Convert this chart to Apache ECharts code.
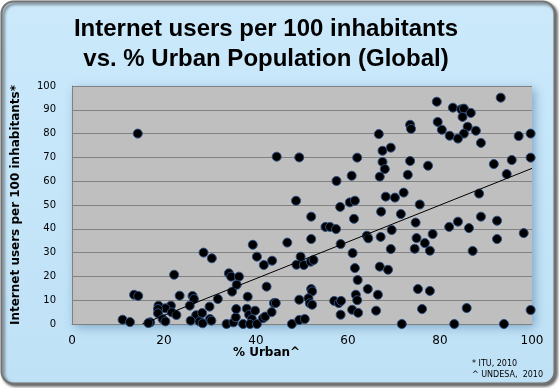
<!DOCTYPE html>
<html>
<head>
<meta charset="utf-8">
<script src="https://cdn.jsdelivr.net/npm/echarts@6/dist/echarts.min.js"></script>
<style>
html,body{margin:0;padding:0;background:#ffffff;}
#chart{width:559px;height:388px;}
</style>
</head>
<body>
<div id="chart"></div>
<script>
// % Urban population (x)
const urban = [14.3,44.5,49.4,48.7,79.3,93.2,82.8,84.6,85.2,86.7,84.9,79.5,73.5,73.7,80.4,86.0,87.8,66.7,82.1,85.2,83.9,88.9,97.1,99.7,69.3,67.5,62.0,67.5,73.5,68.0,77.4,91.7,95.6,99.7,60.8,66.9,73.0,94.5,57.5,68.2,70.2,72.1,88.5,60.4,61.5,58.3,75.6,
46.8,39.3,28.6,30.4,40.2,41.7,43.5,49.7,48.8,22.2,34.1,34.6,36.3,35.8,42.3,34.8,38.2,13.5,14.4,23.4,26.2,26.5,31.7,25.6,29.9,18.8,21.5,20.3,18.7,18.7,21.7,22.7,19.7,20.3,17.0,16.6,11.0,12.6,27.0,28.3,25.8,27.7,28.4,30.0,30.3,33.6,35.1,35.6,35.7,38.0,38.5,39.1,39.8,37.2,38.7,40.2,41.5,42.0,43.4,43.9,44.3,47.8,49.4,49.4,
52.0,61.3,67.2,71.5,74.7,55.1,56.1,57.4,82.0,83.9,86.3,88.9,92.4,92.4,98.2,52.0,58.4,64.1,64.4,67.1,69.5,74.9,78.4,76.7,74.5,77.8,69.3,87.1,61.0,50.4,51.9,52.5,61.5,66.9,68.7,62.1,52.0,52.2,64.3,75.2,77.8,61.7,66.5,62.0,51.4,51.7,52.2,57.0,58.0,58.5,60.9,62.2,66.1,58.4,76.1,85.8,99.7,50.6,71.7,83.1,93.9];
// Internet users per 100 inhabitants (y)
const internet = [80.0,70.3,70.0,51.8,93.4,95.1,90.9,90.2,90.5,88.7,87.0,84.9,83.7,82.0,81.6,82.9,81.2,79.8,79.1,80.0,77.9,76.1,79.0,80.0,74.1,72.8,69.9,68.1,68.5,65.1,66.5,67.2,68.9,69.9,62.3,61.9,62.7,63.0,60.1,53.5,53.1,55.2,54.8,51.1,51.8,49.2,50.2,
34.2,33.3,30.0,27.6,28.3,24.8,26.6,28.3,24.9,20.7,21.3,19.9,19.9,16.5,15.7,13.6,11.5,12.3,11.8,11.9,11.8,10.5,10.5,7.7,7.3,7.7,7.7,6.6,6.3,4.5,4.9,3.8,2.1,1.1,0.7,0.4,1.8,0.8,3.7,4.6,1.4,1.1,0.3,2.1,1.4,0.0,0.7,2.8,6.3,6.4,3.9,2.1,5.6,0.0,0.0,0.0,2.4,3.1,5.0,8.8,8.8,0.0,10.2,1.7,
45.1,44.2,47.2,46.2,42.6,40.8,40.8,39.9,40.8,43.0,40.3,45.1,43.4,35.7,38.2,35.7,33.6,37.1,36.0,36.6,39.5,36.1,37.8,34.0,31.6,30.8,31.5,30.7,29.8,24.8,26.2,26.9,23.5,24.1,22.8,18.5,14.7,13.7,14.7,14.7,13.9,12.3,12.3,10.0,10.8,8.7,8.1,9.7,8.8,9.7,6.0,4.7,5.6,3.9,6.3,6.7,5.9,2.1,0.0,0.0,0.0];
// Linear trend line end points
const trendX = [15.3, 100];
const trendY = [0, 65.4];
// Axis ticks
const xTicks = [0, 20, 40, 60, 80, 100];
const yTicks = [0, 10, 20, 30, 40, 50, 60, 70, 80, 90, 100];

const titleLines = ['Internet users per 100 inhabitants', 'vs. % Urban Population (Global)'];
const yName = 'Internet users per 100 inhabitants*';
const xName = '% Urban^';
const notes = ['* ITU, 2010', '^ UNDESA,  2010'];

const points = urban.map((u, i) => [u, internet[i]]);
const trend = trendX.map((x, i) => [x, trendY[i]]);

const chart = echarts.init(document.getElementById('chart'), null, {renderer: 'canvas'});
chart.setOption({
  animation: false,
  backgroundColor: '#ffffff',
  graphic: [
    {
      type: 'rect', z: -10, silent: true,
      shape: {x: 1.5, y: 1.5, width: 553, height: 382, r: 12},
      style: {
        fill: new echarts.graphic.LinearGradient(0, 0, 0, 1, [
          {offset: 0, color: '#cbe9fb'}, {offset: 1, color: '#bfe1f6'}
        ]),
        stroke: '#737373', lineWidth: 2,
        shadowBlur: 3, shadowOffsetX: 2, shadowOffsetY: 2, shadowColor: 'rgba(60,60,60,0.8)'
      }
    },
    {
      type: 'text', left: 472, top: 358, silent: true,
      style: {text: notes.join('\n'), font: '8px "DejaVu Sans"', fill: '#000', lineHeight: 11}
    },
    {
      type: 'text', left: 233, top: 347, silent: true,
      style: {text: xName, font: 'bold 12px "DejaVu Sans"', fill: '#000'}
    }
  ],
  title: {
    text: titleLines.join('\n'),
    left: 261, top: 9, textAlign: 'center',
    textStyle: {fontFamily: '"Liberation Sans", Arial', fontWeight: 'bold', fontSize: 24, lineHeight: 30, color: '#000'}
  },
  grid: {
    left: 72, right: 27, top: 86, bottom: 64,
    show: true, backgroundColor: '#bfbfbf', borderWidth: 0,
    shadowBlur: 10, shadowColor: 'rgba(0,50,100,0.35)', shadowOffsetX: 3, shadowOffsetY: 3
  },
  xAxis: {
    type: 'value', min: 0, max: 100, interval: 20,
    axisLine: {show: true, lineStyle: {color: '#808080', width: 1}},
    axisTick: {show: false},
    splitLine: {show: false},
    axisLabel: {fontFamily: '"DejaVu Sans"', fontSize: 12, color: '#000', margin: 11}
  },
  yAxis: {
    type: 'value', min: 0, max: 100, interval: 10,
    name: yName, nameLocation: 'middle', nameGap: 50, nameRotate: 90,
    nameTextStyle: {fontFamily: '"DejaVu Sans"', fontWeight: 'bold', fontSize: 12, color: '#000'},
    axisLine: {show: true, lineStyle: {color: '#808080', width: 1}},
    axisTick: {show: false},
    splitLine: {show: true, lineStyle: {color: '#828282', width: 1}},
    axisLabel: {fontFamily: '"DejaVu Sans"', fontSize: 10, color: '#000', margin: 16}
  },
  series: [
    {
      type: 'scatter', data: points, symbol: 'circle', symbolSize: 9,
      itemStyle: {color: '#000000', borderColor: '#2c4d7e', borderWidth: 1, opacity: 1},
      z: 3
    },
    {
      type: 'line', data: trend, showSymbol: false, symbol: 'none',
      lineStyle: {color: '#000', width: 1}, z: 4, silent: true
    }
  ]
});
</script>
</body>
</html>
